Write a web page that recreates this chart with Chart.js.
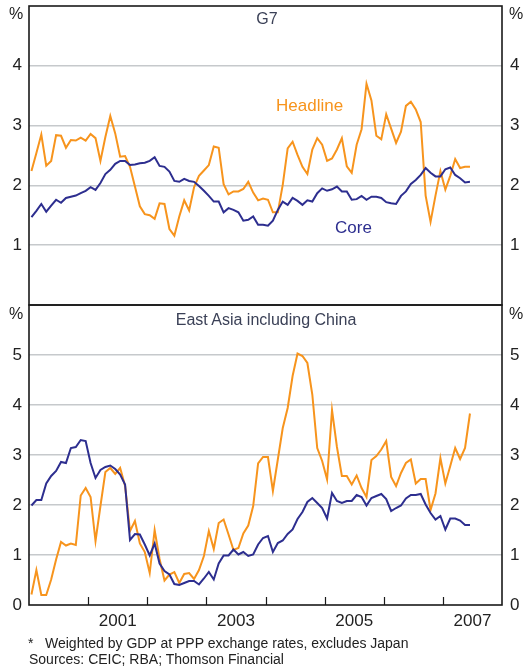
<!DOCTYPE html>
<html>
<head>
<meta charset="utf-8">
<script src="https://cdn.jsdelivr.net/npm/chart.js@4.4.1/dist/chart.umd.min.js"></script>
<style>
  body { margin: 0; background: #fff; font-family: Arial, "Liberation Sans", sans-serif; }
  #wrap { position: relative; width: 523px; height: 668px; overflow: hidden; }
  canvas { position: absolute; left: 0; }
  .lbl { position: absolute; white-space: nowrap; line-height: 1; transform: translateY(-50%); }
  .mid { transform: translate(-50%, -50%); }
</style>
</head>
<body>
<div id="wrap">
  <canvas id="g7" width="523" height="312" style="top:0"></canvas>
  <canvas id="asia" width="523" height="368" style="top:300px"></canvas>

  <div class="lbl" style="left:9px;top:14px;font-size:16px;color:#222">%</div>
  <div class="lbl" style="left:509px;top:14px;font-size:16px;color:#222">%</div>
  <div class="lbl" style="left:9px;top:314px;font-size:16px;color:#222">%</div>
  <div class="lbl" style="left:509px;top:314px;font-size:16px;color:#222">%</div>

  <div class="lbl mid" style="left:267px;top:19px;font-size:16px;color:#3b4157">G7</div>
  <div class="lbl mid" style="left:266px;top:320px;font-size:16px;color:#3b4157">East Asia including China</div>
  <div class="lbl" style="left:276px;top:105px;font-size:17px;color:#f7941d">Headline</div>
  <div class="lbl" style="left:335px;top:227px;font-size:17px;color:#2d2e8f">Core</div>

  <div class="lbl" style="left:28px;top:643px;font-size:14px;color:#222">*</div>
  <div class="lbl" style="left:45px;top:643px;font-size:14px;color:#222">Weighted by GDP at PPP exchange rates, excludes Japan</div>
  <div class="lbl" style="left:29px;top:659px;font-size:14px;color:#222">Sources: CEIC; RBA; Thomson Financial</div>
</div>

<script>
// monthly, Jan 2000 - Jun 2007
const startYear = 2000;
const g7Headline = [2.24, 2.54, 2.85, 2.33, 2.41, 2.84, 2.83, 2.63, 2.76, 2.75, 2.80, 2.75,
  2.86, 2.79, 2.41, 2.81, 3.16, 2.87, 2.48, 2.49, 2.31, 1.98, 1.65, 1.52,
  1.50, 1.44, 1.70, 1.69, 1.27, 1.16, 1.48, 1.75, 1.58, 1.97, 2.16, 2.25,
  2.34, 2.65, 2.63, 2.02, 1.85, 1.90, 1.90, 1.94, 2.06, 1.88, 1.75, 1.78,
  1.76, 1.55, 1.55, 2.01, 2.62, 2.73, 2.51, 2.31, 2.19, 2.60, 2.79, 2.68,
  2.41, 2.45, 2.60, 2.79, 2.32, 2.21, 2.68, 2.94, 3.70, 3.42, 2.83, 2.77,
  3.19, 2.95, 2.71, 2.90, 3.33, 3.40, 3.27, 3.06, 1.83, 1.39, 1.83, 2.24,
  1.93, 2.16, 2.44, 2.29, 2.31, 2.31];
const g7Core = [1.47, 1.575, 1.69, 1.56, 1.66, 1.76, 1.71, 1.79, 1.81, 1.83, 1.87, 1.91,
  1.97, 1.925, 2.04, 2.19, 2.26, 2.36, 2.41, 2.41, 2.34, 2.35, 2.37, 2.38,
  2.41, 2.47, 2.325, 2.31, 2.23, 2.075, 2.06, 2.11, 2.075, 2.06, 1.99, 1.91,
  1.825, 1.73, 1.73, 1.55, 1.62, 1.59, 1.55, 1.41, 1.425, 1.48, 1.34, 1.34,
  1.325, 1.41, 1.59, 1.73, 1.675, 1.79, 1.74, 1.675, 1.75, 1.73, 1.87, 1.95,
  1.91, 1.935, 1.98, 1.90, 1.90, 1.76, 1.77, 1.825, 1.76, 1.81, 1.81, 1.79,
  1.72, 1.70, 1.69, 1.825, 1.90, 2.025, 2.09, 2.175, 2.29, 2.21, 2.15, 2.15,
  2.27, 2.30, 2.175, 2.12, 2.05, 2.06];
const asiaHeadline = [0.21, 0.70, 0.20, 0.20, 0.51, 0.91, 1.26, 1.19, 1.23, 1.20, 2.19, 2.34,
  2.16, 1.28, 1.98, 2.66, 2.74, 2.62, 2.74, 2.38, 1.48, 1.68, 1.23, 1.06,
  0.64, 1.50, 0.92, 0.49, 0.61, 0.66, 0.44, 0.62, 0.64, 0.52, 0.70, 0.98,
  1.48, 1.12, 1.64, 1.71, 1.41, 1.10, 1.14, 1.43, 1.59, 1.98, 2.83, 2.96,
  2.96, 2.28, 2.91, 3.54, 3.94, 4.58, 5.03, 4.98, 4.84, 4.21, 3.14, 2.88,
  2.51, 3.90, 3.16, 2.58, 2.58, 2.41, 2.59, 2.34, 2.16, 2.90, 2.98, 3.11,
  3.28, 2.56, 2.38, 2.64, 2.84, 2.91, 2.43, 2.52, 2.52, 1.90, 2.23, 2.94,
  2.43, 2.78, 3.14, 2.92, 3.14, 3.83];
const asiaCore = [1.99, 2.10, 2.10, 2.43, 2.58, 2.68, 2.86, 2.84, 3.14, 3.16, 3.30, 3.28,
  2.84, 2.54, 2.70, 2.76, 2.79, 2.72, 2.61, 2.41, 1.30, 1.42, 1.41, 1.21,
  0.99, 1.23, 0.83, 0.68, 0.61, 0.42, 0.40, 0.44, 0.48, 0.48, 0.41, 0.53,
  0.66, 0.51, 0.83, 0.99, 0.99, 1.11, 1.01, 1.06, 0.98, 1.01, 1.21, 1.34,
  1.38, 1.06, 1.24, 1.29, 1.42, 1.51, 1.72, 1.86, 2.06, 2.14, 2.04, 1.94,
  1.73, 2.24, 2.08, 2.04, 2.08, 2.08, 2.20, 2.16, 1.99, 2.14, 2.18, 2.22,
  2.12, 1.88, 1.94, 1.99, 2.13, 2.20, 2.20, 2.22, 2.01, 1.84, 1.71, 1.78,
  1.51, 1.73, 1.73, 1.69, 1.60, 1.60];
const yearLabels = ['2001', '2003', '2005', '2007'];
const yearTicks = [2001, 2002, 2003, 2004, 2005, 2006, 2007];

const orange = '#f7941d';
const navy = '#2d2e8f';
const gridGrey = '#c6c9cc';

const toPoints = vals => vals.map((v, i) => ({ x: startYear + (i + 0.5) / 12, y: v }));

// black box round the plot area, plus inward year ticks on the bottom panel
const frame = {
  id: 'frame',
  afterDraw(chart, args, opts) {
    const { ctx, chartArea: a } = chart;
    ctx.save();
    ctx.strokeStyle = '#1a1a1a';
    ctx.lineWidth = 1.6;
    ctx.strokeRect(a.left, a.top, a.right - a.left, a.bottom - a.top);
    if (opts.ticks) {
      ctx.lineWidth = 1.2;
      ctx.beginPath();
      yearTicks.forEach(yr => {
        const x = Math.round(chart.scales.x.getPixelForValue(yr)) + 0.5;
        ctx.moveTo(x, a.bottom);
        ctx.lineTo(x, a.bottom - 8);
      });
      ctx.stroke();
    }
    ctx.restore();
  }
};

function yAxis(side, max, width, showZero) {
  return {
    position: side,
    min: 0,
    max: max,
    afterFit: s => { s.width = width; s.paddingTop = 0; s.paddingBottom = 0; },
    border: { display: false },
    grid: {
      display: side === 'left',
      drawTicks: false,
      lineWidth: 1.5,
      color: c => (c.tick.value === 0 || c.tick.value === max) ? 'rgba(0,0,0,0)' : gridGrey
    },
    ticks: {
      stepSize: 1,
      padding: side === 'left' ? 7 : 8,
      color: '#222',
      font: { size: 17, family: 'Arial, "Liberation Sans", sans-serif' },
      callback: v => (v === max || (v === 0 && !showZero)) ? '' : v
    }
  };
}

function lines(core, headline) {
  return [
    { data: toPoints(core), borderColor: navy, borderWidth: 2, pointRadius: 0, tension: 0 },
    { data: toPoints(headline), borderColor: orange, borderWidth: 2, pointRadius: 0, tension: 0 }
  ];
}

const common = {
  responsive: false,
  animation: false,
  plugins: { legend: { display: false }, tooltip: { enabled: false } }
};

new Chart(document.getElementById('g7'), {
  type: 'line',
  data: { datasets: lines(g7Core, g7Headline) },
  options: {
    ...common,
    layout: { padding: { top: 6, bottom: 7, left: 0, right: 0 } },
    plugins: { ...common.plugins, frame: { ticks: false } },
    scales: {
      x: { type: 'linear', min: 2000, max: 2008, display: false },
      y: yAxis('left', 5, 29, false),
      y2: yAxis('right', 5, 21, false)
    }
  },
  plugins: [frame]
});

new Chart(document.getElementById('asia'), {
  type: 'line',
  data: { datasets: lines(asiaCore, asiaHeadline) },
  options: {
    ...common,
    layout: { padding: { top: 5, bottom: 33, left: 0, right: 0 } },
    plugins: { ...common.plugins, frame: { ticks: true } },
    scales: {
      x: {
        type: 'linear', min: 2000, max: 2008,
        afterFit: s => { s.height = 30; },
        afterBuildTicks: s => { s.ticks = yearLabels.map(l => ({ value: Number(l) + 0.5 })); },
        border: { display: false },
        grid: { display: false },
        ticks: {
          padding: 0,
          maxRotation: 0,
          color: '#222',
          font: { size: 17, lineHeight: 1, family: 'Arial, "Liberation Sans", sans-serif' },
          callback: (v, i) => yearLabels[i]
        }
      },
      y: yAxis('left', 6, 29, true),
      y2: yAxis('right', 6, 21, true)
    }
  },
  plugins: [frame]
});
</script>
</body>
</html>
